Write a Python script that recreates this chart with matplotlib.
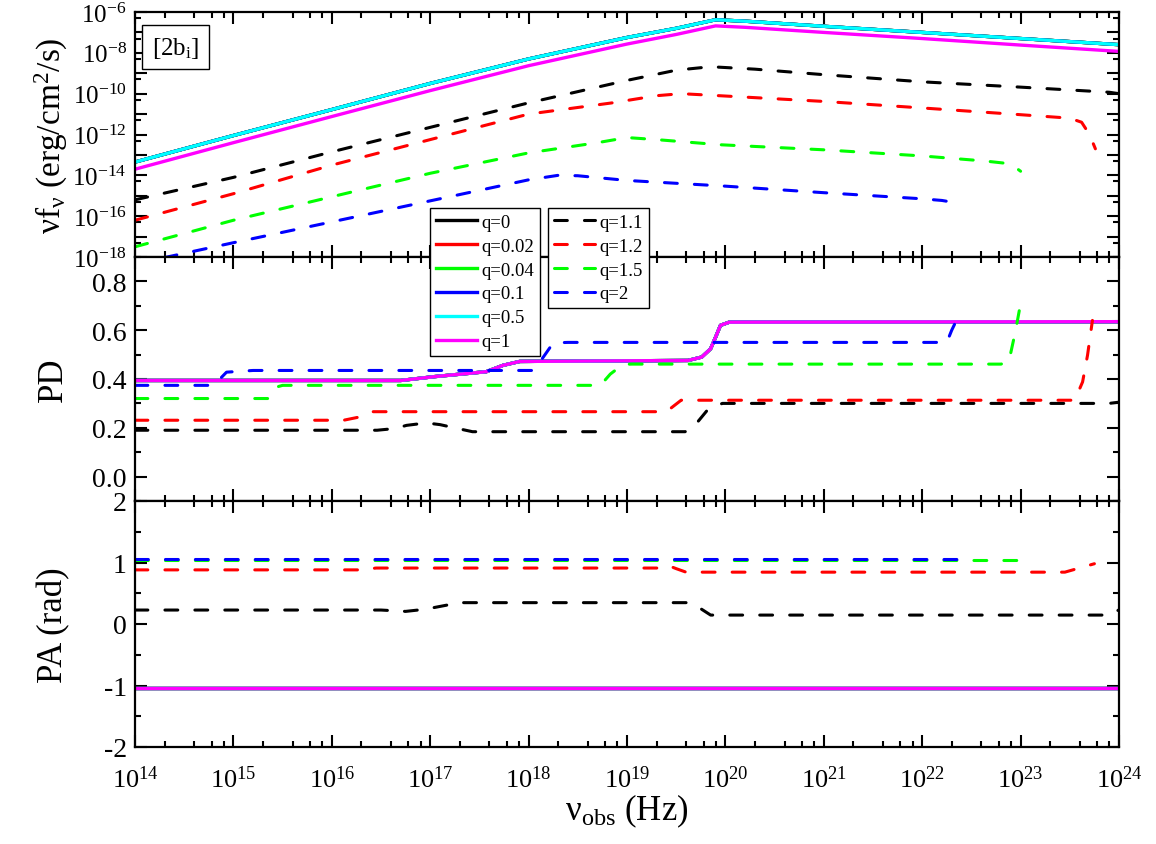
import numpy as np
import matplotlib
matplotlib.use("Agg")
import matplotlib.pyplot as plt
from matplotlib.ticker import FixedLocator, FuncFormatter, NullFormatter, MultipleLocator
from matplotlib.lines import Line2D

plt.rcParams['font.family'] = ['Liberation Serif', 'DejaVu Serif']
plt.rcParams['mathtext.fontset'] = 'custom'
plt.rcParams['mathtext.rm'] = 'Liberation Serif'
plt.rcParams['mathtext.it'] = 'Liberation Serif:italic'
plt.rcParams['mathtext.bf'] = 'Liberation Serif:bold'
plt.rcParams['axes.unicode_minus'] = False

# ---------------- data (log10 of nu in Hz) ----------------
labels_solid = ['q=0', 'q=0.02', 'q=0.04', 'q=0.1', 'q=0.5', 'q=1']
colors_solid = ['#000000', '#FF0000', '#00FF00', '#0000FF', '#00FFFF', '#FF00FF']
labels_dash = ['q=1.1', 'q=1.2', 'q=1.5', 'q=2']
colors_dash = ['#000000', '#FF0000', '#00FF00', '#0000FF']

# Top panel: log10(nu f_nu)
sed_solid_nu = [14, 15, 16, 17, 18, 19, 19.5, 19.9, 20.2, 21, 22, 23, 24]
sed_q_low = [-13.35, -12.05, -10.78, -9.5, -8.3, -7.25, -6.8, -6.38, -6.45, -6.7, -7.0, -7.3, -7.6]  # q=0..0.5
sed_q1 = [-13.7, -12.4, -11.12, -9.85, -8.63, -7.57, -7.1, -6.68, -6.75, -7.0, -7.3, -7.62, -7.93]

sed_q11_nu = [14, 15, 16, 17, 18, 18.5, 19, 19.5, 19.85, 20.3, 21, 22, 23, 23.9, 24]
sed_q11 = [-15.2, -14.1, -12.85, -11.65, -10.45, -9.9, -9.35, -8.85, -8.68, -8.8, -9.07, -9.42, -9.68, -9.93, -10.0]
sed_q12_nu = [14, 15, 16, 17, 18, 18.85, 19.3, 19.55, 19.94, 21, 22, 23, 23.5, 23.62, 23.7, 23.76]
sed_q12 = [-16.2, -14.9, -13.5, -12.25, -11.0, -10.45, -10.1, -10.0, -10.1, -10.38, -10.7, -11.03, -11.2, -11.4, -12.0, -12.7]
sed_q15_nu = [14, 15, 16, 17, 18, 18.7, 19.0, 19.3, 19.94, 21, 22, 22.64, 22.83, 22.93, 23.0]
sed_q15 = [-17.5, -16.2, -15.05, -13.9, -12.9, -12.4, -12.15, -12.25, -12.5, -12.75, -13.05, -13.3, -13.4, -13.55, -13.8]
sed_q2_nu = [14, 15, 16, 17, 18, 18.3, 18.5, 19, 20, 21, 22, 22.2, 22.35]
sed_q2 = [-18.34, -17.3, -16.28, -15.25, -14.22, -14.0, -14.02, -14.25, -14.53, -14.85, -15.15, -15.23, -15.35]

# Middle panel: PD
pd_solid_nu = [14, 16.7, 17.05, 17.57, 17.74, 17.91, 19.62, 19.76, 19.85, 19.9, 19.95, 20.04, 24]
pd_solid = [0.394, 0.394, 0.41, 0.43, 0.456, 0.472, 0.476, 0.49, 0.524, 0.571, 0.62, 0.633, 0.635]
pd_q11_nu = [14, 16.46, 16.64, 16.76, 16.96, 17.1, 17.28, 17.43, 19.59, 19.65, 19.72, 19.83, 19.97, 23.9, 24]
pd_q11 = [0.19, 0.19, 0.197, 0.21, 0.22, 0.213, 0.197, 0.184, 0.184, 0.195, 0.225, 0.279, 0.3, 0.3, 0.305]
pd_q12_nu = [14, 16.12, 16.29, 16.42, 19.4, 19.55, 23.55, 23.63, 23.68, 23.73]
pd_q12 = [0.231, 0.231, 0.245, 0.266, 0.266, 0.313, 0.313, 0.388, 0.497, 0.64]
pd_q15_nu = [14, 15.35, 15.42, 15.5, 18.73, 18.83, 18.96, 19.05, 22.8, 22.88, 22.95, 23.0]
pd_q15 = [0.32, 0.32, 0.365, 0.374, 0.374, 0.42, 0.46, 0.461, 0.461, 0.47, 0.6, 0.71]
pd_q2_nu = [14, 14.8, 14.93, 15.2, 18.05, 18.15, 18.25, 18.4, 22.25, 22.3, 22.38]
pd_q2 = [0.374, 0.374, 0.428, 0.435, 0.435, 0.49, 0.548, 0.55, 0.55, 0.6, 0.667]

# Bottom panel: PA (rad)
pa_solid_nu = [14, 24]
pa_solid = [-1.047, -1.047]
pa_q11_nu = [14, 16.5, 16.75, 16.95, 17.3, 19.62, 19.7, 19.85, 23.9, 24]
pa_q11 = [0.227, 0.227, 0.205, 0.24, 0.347, 0.347, 0.3, 0.145, 0.145, 0.23]
pa_q12_nu = [14, 16.3, 16.45, 19.35, 19.42, 19.5, 19.6, 23.45, 23.75]
pa_q12 = [0.88, 0.88, 0.91, 0.91, 0.95, 0.9, 0.843, 0.843, 0.98]
pa_q15_nu = [14, 23.0]
pa_q15 = [1.035, 1.035]
pa_q2_nu = [14, 22.37]
pa_q2 = [1.05, 1.05]

x_tick_exps = list(range(14, 25))
sed_tick_exps = list(range(-18, -5))

# ---------------- figure ----------------
W, H = 1156, 845
fig = plt.figure(figsize=(W / 100, H / 100), dpi=100)
L = 135 / W
Wd = (1119 - 135) / W
def ypos(top_px, bot_px):
    return [L, 1 - bot_px / H, Wd, (bot_px - top_px) / H]

ax1 = fig.add_axes(ypos(13, 258))
ax2 = fig.add_axes(ypos(258, 502))
ax3 = fig.add_axes(ypos(502, 748))

LW_S = 2.4
LW_D = 2.2
DASH = (4.2, 5.6)

def nu(a):
    return 10.0 ** np.asarray(a)

# top panel
for lab, c in zip(labels_solid[:5], colors_solid[:5]):
    ax1.plot(nu(sed_solid_nu), nu(sed_q_low), color=c, lw=LW_S, label=lab)
ax1.plot(nu(sed_solid_nu), nu(sed_q1), color=colors_solid[5], lw=LW_S, label=labels_solid[5])
dash_sed = [(sed_q11_nu, sed_q11), (sed_q12_nu, sed_q12), (sed_q15_nu, sed_q15), (sed_q2_nu, sed_q2)]
for (xs, ys), lab, c in zip(dash_sed, labels_dash, colors_dash):
    ax1.plot(nu(xs), nu(ys), color=c, lw=LW_D, dashes=DASH, dash_capstyle='round', label=lab)

# middle panel
for c in colors_solid:
    ax2.plot(nu(pd_solid_nu), pd_solid, color=c, lw=LW_S)
dash_pd = [(pd_q11_nu, pd_q11), (pd_q12_nu, pd_q12), (pd_q15_nu, pd_q15), (pd_q2_nu, pd_q2)]
for (xs, ys), c in zip(dash_pd, colors_dash):
    ax2.plot(nu(xs), ys, color=c, lw=LW_D, dashes=DASH, dash_capstyle='round')

# bottom panel
for c in colors_solid:
    ax3.plot(nu(pa_solid_nu), pa_solid, color=c, lw=LW_S)
dash_pa = [(pa_q11_nu, pa_q11), (pa_q12_nu, pa_q12), (pa_q15_nu, pa_q15), (pa_q2_nu, pa_q2)]
for (xs, ys), c in zip(dash_pa, colors_dash):
    ax3.plot(nu(xs), ys, color=c, lw=LW_D, dashes=DASH, dash_capstyle='round')

# axes styling
xmaj = [10.0 ** e for e in x_tick_exps]
xmin = [m * 10.0 ** e for e in x_tick_exps[:-1] for m in (2, 4, 6, 8)]
for ax in (ax1, ax2, ax3):
    ax.set_xscale('log')
    ax.set_xlim(1e14, 1e24)
    ax.xaxis.set_major_locator(FixedLocator(xmaj))
    ax.xaxis.set_minor_locator(FixedLocator(xmin))
    ax.xaxis.set_minor_formatter(NullFormatter())
    ax.tick_params(which='both', direction='in', top=True, right=True, width=1.5)
    ax.tick_params(which='major', length=8.5, labelsize=18, pad=6)
    ax.tick_params(which='minor', length=4.5)
    for s in ax.spines.values():
        s.set_linewidth(1.6)

for ax in (ax1, ax2):
    ax.xaxis.set_major_formatter(NullFormatter())
ax3.xaxis.set_major_formatter(FuncFormatter(lambda v, p: r'$10^{%d}$' % int(round(np.log10(v)))))
ax3.tick_params(axis='x', which='major', labelsize=19, pad=13)
ax2.tick_params(axis='y', which='major', labelsize=20)
ax3.tick_params(axis='y', which='major', labelsize=20)

ax1.set_yscale('log')
ax1.set_ylim(1e-18, 1e-6)
ax1.yaxis.set_major_locator(FixedLocator([10.0 ** e for e in sed_tick_exps]))
ax1.yaxis.set_minor_locator(FixedLocator([5 * 10.0 ** e for e in sed_tick_exps[:-1]]))
ax1.yaxis.set_minor_formatter(NullFormatter())
def sed_fmt(v, p):
    e = int(round(np.log10(v)))
    return r'$10^{%d}$' % e if e % 2 == 0 else ''
ax1.yaxis.set_major_formatter(FuncFormatter(sed_fmt))

ax2.set_ylim(-0.1, 0.9)
ax2.yaxis.set_major_locator(FixedLocator([0.0, 0.2, 0.4, 0.6, 0.8]))
ax2.yaxis.set_minor_locator(MultipleLocator(0.1))
ax2.yaxis.set_major_formatter(FuncFormatter(lambda v, p: '%.1f' % v))

ax3.set_ylim(-2, 2)
ax3.yaxis.set_major_locator(MultipleLocator(1))
ax3.yaxis.set_minor_locator(MultipleLocator(0.5))
ax3.yaxis.set_major_formatter(FuncFormatter(lambda v, p: '%d' % int(round(v))))

ax1.set_ylabel('νf$_{\\mathrm{ν}}$ (erg/cm$^{2}$/s)', fontsize=24)
ax2.set_ylabel('PD', fontsize=25)
ax3.set_ylabel('PA (rad)', fontsize=25)
for ax in (ax1, ax2, ax3):
    ax.yaxis.set_label_coords(-0.066, 0.5)
ax3.set_xlabel('ν$_{\\mathrm{obs}}$ (Hz)', fontsize=25, labelpad=0)

ax1.text(0.041, 0.857, '[2b$_{\\mathrm{i}}$]', transform=ax1.transAxes, fontsize=18,
         ha='center', va='center',
         bbox=dict(boxstyle='square,pad=0.38', fc='white', ec='black', lw=1.0))

# legends
h_solid = [Line2D([], [], color=c, lw=LW_S) for c in colors_solid]
h_dash = [Line2D([], [], color=c, lw=LW_D, dashes=DASH, dash_capstyle='round') for c in colors_dash]
leg_kw = dict(fontsize=13.5, frameon=True, fancybox=False, framealpha=1.0, edgecolor='black',
              handlelength=2.2, handletextpad=0.25, labelspacing=0.36, borderpad=0.3,
              borderaxespad=0.0, loc='upper left')
leg1 = fig.legend(h_solid, labels_solid, bbox_to_anchor=(430 / W, 1 - 209 / H), **leg_kw)
leg2 = fig.legend(h_dash, labels_dash, bbox_to_anchor=(548 / W, 1 - 209 / H), **leg_kw)
for lg in (leg1, leg2):
    lg.get_frame().set_linewidth(1.0)

fig.savefig('out.png', dpi=100, facecolor='white')
